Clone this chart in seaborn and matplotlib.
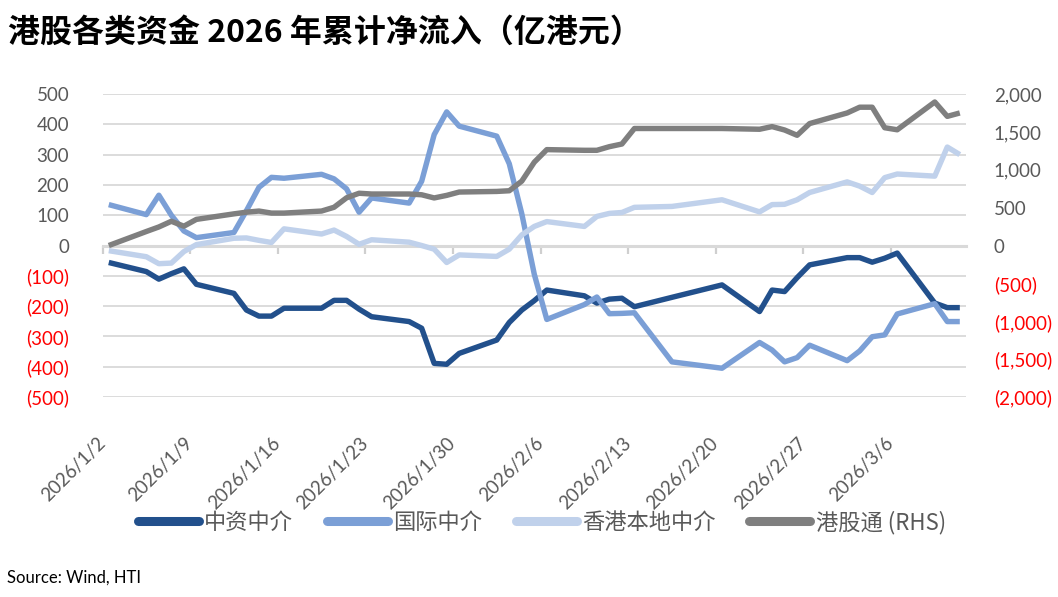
import matplotlib
matplotlib.use("Agg")
import matplotlib.pyplot as plt
import matplotlib.dates as mdates
from matplotlib.ticker import FixedLocator, FuncFormatter
import seaborn as sns
import pandas as pd
import numpy as np

# ---------------- data ----------------
dates = ["2026-01-02", "2026-01-05", "2026-01-06", "2026-01-07", "2026-01-08", "2026-01-09",
         "2026-01-12", "2026-01-13", "2026-01-14", "2026-01-15", "2026-01-16",
         "2026-01-19", "2026-01-20", "2026-01-21", "2026-01-22", "2026-01-23",
         "2026-01-26", "2026-01-27", "2026-01-28", "2026-01-29", "2026-01-30",
         "2026-02-02", "2026-02-03", "2026-02-04", "2026-02-05", "2026-02-06",
         "2026-02-09", "2026-02-10", "2026-02-11", "2026-02-12", "2026-02-13",
         "2026-02-16", "2026-02-20",
         "2026-02-23", "2026-02-24", "2026-02-25", "2026-02-26", "2026-02-27",
         "2026-03-02", "2026-03-03", "2026-03-04", "2026-03-05", "2026-03-06",
         "2026-03-09", "2026-03-10", "2026-03-11"]

cn_broker = [-56, -86, -111, -93, -77, -128,
             -158, -213, -233, -233, -207,
             -207, -181, -181, -210, -235,
             -251, -273, -389, -392, -356,
             -312, -254, -213, -182, -147,
             -166, -190, -177, -174, -202,
             -171, -130,
             -218, -147, -152, -106, -64,
             -40, -40, -55, -42, -25,
             -190, -205, -205]

intl_broker = [135, 102, 166, 100, 48, 26,
               43, 115, 192, 225, 222,
               235, 220, 187, 110, 157,
               140, 212, 366, 441, 394,
               361, 270, 105, -95, -244,
               -195, -170, -225, -224, -222,
               -384, -405,
               -320, -345, -384, -370, -329,
               -380, -348, -301, -295, -226,
               -192, -251, -251]

hk_local = [-17, -37, -60, -58, -20, 3,
            24, 25, 17, 10, 55,
            38, 51, 30, 4, 19,
            11, 0, -12, -56, -31,
            -36, -12, 35, 63, 79,
            63, 96, 106, 109, 126,
            129, 151,
            111, 135, 136, 151, 175,
            210, 196, 175, 224, 236,
            229, 325, 300]

southbound = [0, 185, 245, 320, 255, 345,
              418, 440, 455, 428, 428,
              455, 505, 630, 690, 680,
              680, 670, 628, 662, 706,
              714, 723, 850, 1100, 1266,
              1257, 1257, 1305, 1340, 1545,
              1545, 1545,
              1535, 1570, 1525, 1455, 1610,
              1750, 1826, 1826, 1555, 1528,
              1895, 1705, 1750]

series_names = ["中资中介", "国际中介", "香港本地中介", "港股通 (RHS)"]
tick_dates = ["2026-01-02", "2026-01-09", "2026-01-16", "2026-01-23", "2026-01-30",
              "2026-02-06", "2026-02-13", "2026-02-20", "2026-02-27", "2026-03-06"]
tick_labels = ["2026/1/2", "2026/1/9", "2026/1/16", "2026/1/23", "2026/1/30",
               "2026/2/6", "2026/2/13", "2026/2/20", "2026/2/27", "2026/3/6"]
axis_start, axis_end = "2026-01-02", "2026-03-12"

title = "港股各类资金 2026 年累计净流入（亿港元）"
source = "Source: Wind, HTI"

# ---------------- style ----------------
sns.set_theme(style="white")
plt.rcParams['font.family'] = ['Lato', 'Noto Sans CJK SC', 'DejaVu Sans']
plt.rcParams['axes.unicode_minus'] = False

colors = ["#22508C", "#7B9FD6", "#C0D1EB", "#7F7F7F"]
grid_c = "#D9D9D9"
tick_c = "#CFCFCF"
lab_c = "#595959"
neg_c = "#FF0000"
lw = 3.9

# Excel date axis places points in the middle of each day slot
xnum = mdates.date2num(pd.to_datetime(dates)) + 0.5
df = pd.DataFrame({"x": xnum, "cn": cn_broker, "intl": intl_broker,
                   "hk": hk_local, "sb": southbound})

fig = plt.figure(figsize=(10.58, 5.97), dpi=100)
ax = fig.add_axes([0.0969, 0.335, 0.8162, 0.5075])
ax2 = ax.twinx()

for col, c in zip(["cn", "intl", "hk"], colors[:3]):
    sns.lineplot(data=df, x="x", y=col, ax=ax, color=c, lw=lw,
                 solid_joinstyle="round", solid_capstyle="butt", zorder=3)
sns.lineplot(data=df, x="x", y="sb", ax=ax2, color=colors[3], lw=lw,
             solid_joinstyle="round", solid_capstyle="butt", zorder=3)

x0 = mdates.date2num(pd.Timestamp(axis_start))
x1 = mdates.date2num(pd.Timestamp(axis_end))
ax.set_xlim(x0, x1)
ax.set_ylim(-500, 500)
ax2.set_ylim(-2000, 2000)

# gridlines
ax.yaxis.set_major_locator(FixedLocator(np.arange(-500, 501, 100)))
ax2.yaxis.set_major_locator(FixedLocator(np.arange(-2000, 2001, 500)))
ax.grid(axis="y", color=grid_c, lw=1.3)
ax.grid(axis="x", visible=False)
ax2.grid(False)
ax.set_axisbelow(True)
for a in (ax, ax2):
    for s in a.spines.values():
        s.set_visible(False)
    a.set_xlabel("")
    a.set_ylabel("")

def fmt(v, pos=None):
    if v < 0:
        return "({:,.0f})".format(-v)
    return "{:,.0f}".format(v)

ax.yaxis.set_major_formatter(FuncFormatter(fmt))
ax2.yaxis.set_major_formatter(FuncFormatter(fmt))
ax.tick_params(axis="y", length=0, pad=24, labelsize=13.5)
ax2.tick_params(axis="y", length=0, pad=20, labelsize=13.5)
for a in (ax, ax2):
    for t, v in zip(a.get_yticklabels(), a.get_yticks()):
        t.set_color(neg_c if v < 0 else lab_c)

# category axis line at zero with tick marks (main x axis)
tnum = mdates.date2num(pd.to_datetime(tick_dates))
ax.set_xticks(tnum)
ax.spines["bottom"].set_visible(True)
ax.spines["bottom"].set_position(("data", 0))
ax.spines["bottom"].set_color(grid_c)
ax.spines["bottom"].set_linewidth(2.2)
ax.tick_params(axis="x", bottom=True, length=6, width=1.6, color=tick_c,
               direction="out", labelbottom=False)

# date labels at the bottom of the plot area
sec = ax.secondary_xaxis("bottom")
sec.set_xticks(tnum)
sec.set_xticklabels(tick_labels, rotation=45, ha="right", va="center",
                    rotation_mode="anchor", color=lab_c, fontsize=13.5)
sec.tick_params(axis="x", length=0, pad=31)
for s in sec.spines.values():
    s.set_visible(False)

# legend
handles = [plt.Line2D([], [], color=c, lw=6.5, solid_capstyle="round") for c in colors]
leg = fig.legend(handles, series_names, loc="center", bbox_to_anchor=(0.512, 0.125),
                 ncol=4, frameon=False, handlelength=2.75, handletextpad=0.25,
                 columnspacing=1.5, prop={"family": ["Noto Sans CJK SC", "DejaVu Sans"],
                                          "size": 16})
for t in leg.get_texts():
    t.set_color(lab_c)

fig.text(0.008, 0.945, title, fontsize=23, fontweight="bold", color="black",
         family=["Noto Sans CJK SC", "DejaVu Sans"], va="center", ha="left")
fig.text(0.007, 0.033, source, fontsize=12, color="black", va="center", ha="left",
         family=["Lato", "DejaVu Sans"])

fig.savefig("out.png", dpi=100)
